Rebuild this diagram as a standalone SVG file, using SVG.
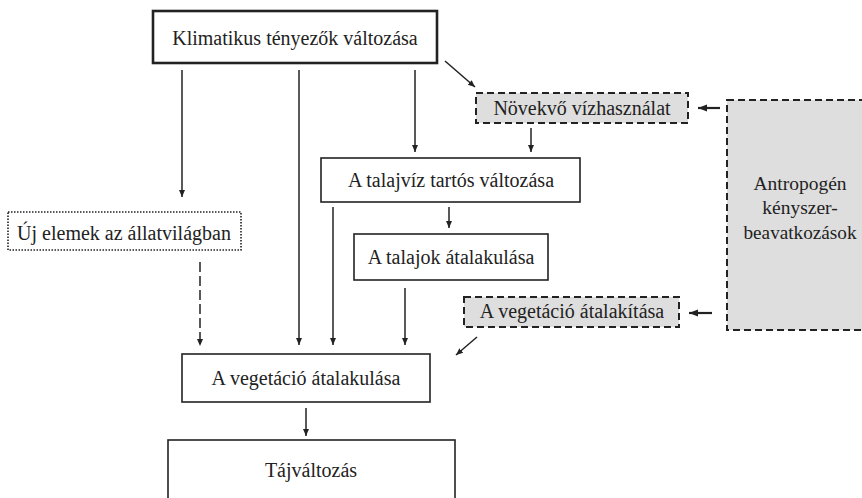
<svg xmlns="http://www.w3.org/2000/svg" width="862" height="498" viewBox="0 0 862 498">
<style>
text{font-family:"Liberation Serif","Times New Roman",serif;font-size:20px;fill:#222;text-anchor:middle}
.sm{font-size:19.5px}
.box{fill:#fff;stroke:#222;stroke-width:1.6}
.thick{stroke-width:2.6}
.gray{fill:#dedede;stroke:#222;stroke-width:2;stroke-dasharray:7 4}
.dot{fill:#fff;stroke:#222;stroke-width:1.6;stroke-dasharray:1.5 1.5}
.ln{stroke:#222;stroke-width:1.5;fill:none;marker-end:url(#ah)}
.lnb{stroke:#222;stroke-width:2.2;fill:none;marker-end:url(#ahb)}
</style>
<defs>
<marker id="ah" markerWidth="8" markerHeight="8" refX="7" refY="4" orient="auto" markerUnits="userSpaceOnUse">
<path d="M0,1 L7,4 L0,7 Z" fill="#222"/>
</marker>
<marker id="ahb" markerWidth="10" markerHeight="8" refX="9" refY="4" orient="auto" markerUnits="userSpaceOnUse">
<path d="M0,0.5 L9,4 L0,7.5 Z" fill="#222"/>
</marker>
</defs>
<g id="connectors">
<line class="ln" x1="182" y1="70" x2="182" y2="197"/>
<line class="ln" x1="299" y1="70" x2="299" y2="345"/>
<line class="ln" x1="415" y1="70" x2="415" y2="152"/>
<line class="ln" x1="445" y1="61" x2="475" y2="87"/>
<line class="ln" x1="531" y1="128" x2="531" y2="152"/>
<line class="ln" x1="449" y1="207" x2="449" y2="228"/>
<line class="ln" x1="333" y1="207" x2="333" y2="345"/>
<line class="ln" x1="405" y1="288" x2="405" y2="345"/>
<line class="ln" x1="200" y1="262" x2="200" y2="346" style="stroke-dasharray:10 4"/>
<line class="ln" x1="477" y1="337" x2="456" y2="355"/>
<line class="ln" x1="306" y1="408" x2="306" y2="436"/>
<line class="lnb" x1="720" y1="108" x2="698" y2="108"/>
<line class="lnb" x1="712" y1="313" x2="689" y2="313"/>
</g>
<g id="klimatikus">
<rect class="box thick" x="153" y="11" width="284" height="52"/>
<text x="295" y="45">Klimatikus tényezők változása</text>
</g>
<g id="novekvo">
<rect class="gray" x="476" y="93" width="212" height="30"/>
<text x="582" y="115">Növekvő vízhasználat</text>
</g>
<g id="antropogen">
<rect class="gray" x="727" y="100" width="150" height="230"/>
<text class="sm" x="800" y="190">Antropogén</text>
<text class="sm" x="800" y="214">kényszer-</text>
<text class="sm" x="800" y="239" textLength="113" lengthAdjust="spacingAndGlyphs">beavatkozások</text>
</g>
<g id="talajviz">
<rect class="box" x="321" y="158" width="259" height="44"/>
<text x="451" y="187">A talajvíz tartós változása</text>
</g>
<g id="talajok">
<rect class="box" x="354" y="234" width="194" height="46"/>
<text x="451" y="264">A talajok átalakulása</text>
</g>
<g id="uj-elemek">
<rect class="dot" x="8" y="212" width="233" height="38"/>
<text x="124" y="240">Új elemek az állatvilágban</text>
</g>
<g id="vegetacio-atalakitasa">
<rect class="gray" x="464" y="297" width="215" height="30"/>
<text x="572" y="318">A vegetáció átalakítása</text>
</g>
<g id="vegetacio-atalakulasa">
<rect class="box" x="182" y="354" width="248" height="48"/>
<text x="306" y="385">A vegetáció átalakulása</text>
</g>
<g id="tajvaltozas">
<rect class="box" x="168" y="440" width="287" height="70"/>
<text x="311" y="477">Tájváltozás</text>
</g>
</svg>
